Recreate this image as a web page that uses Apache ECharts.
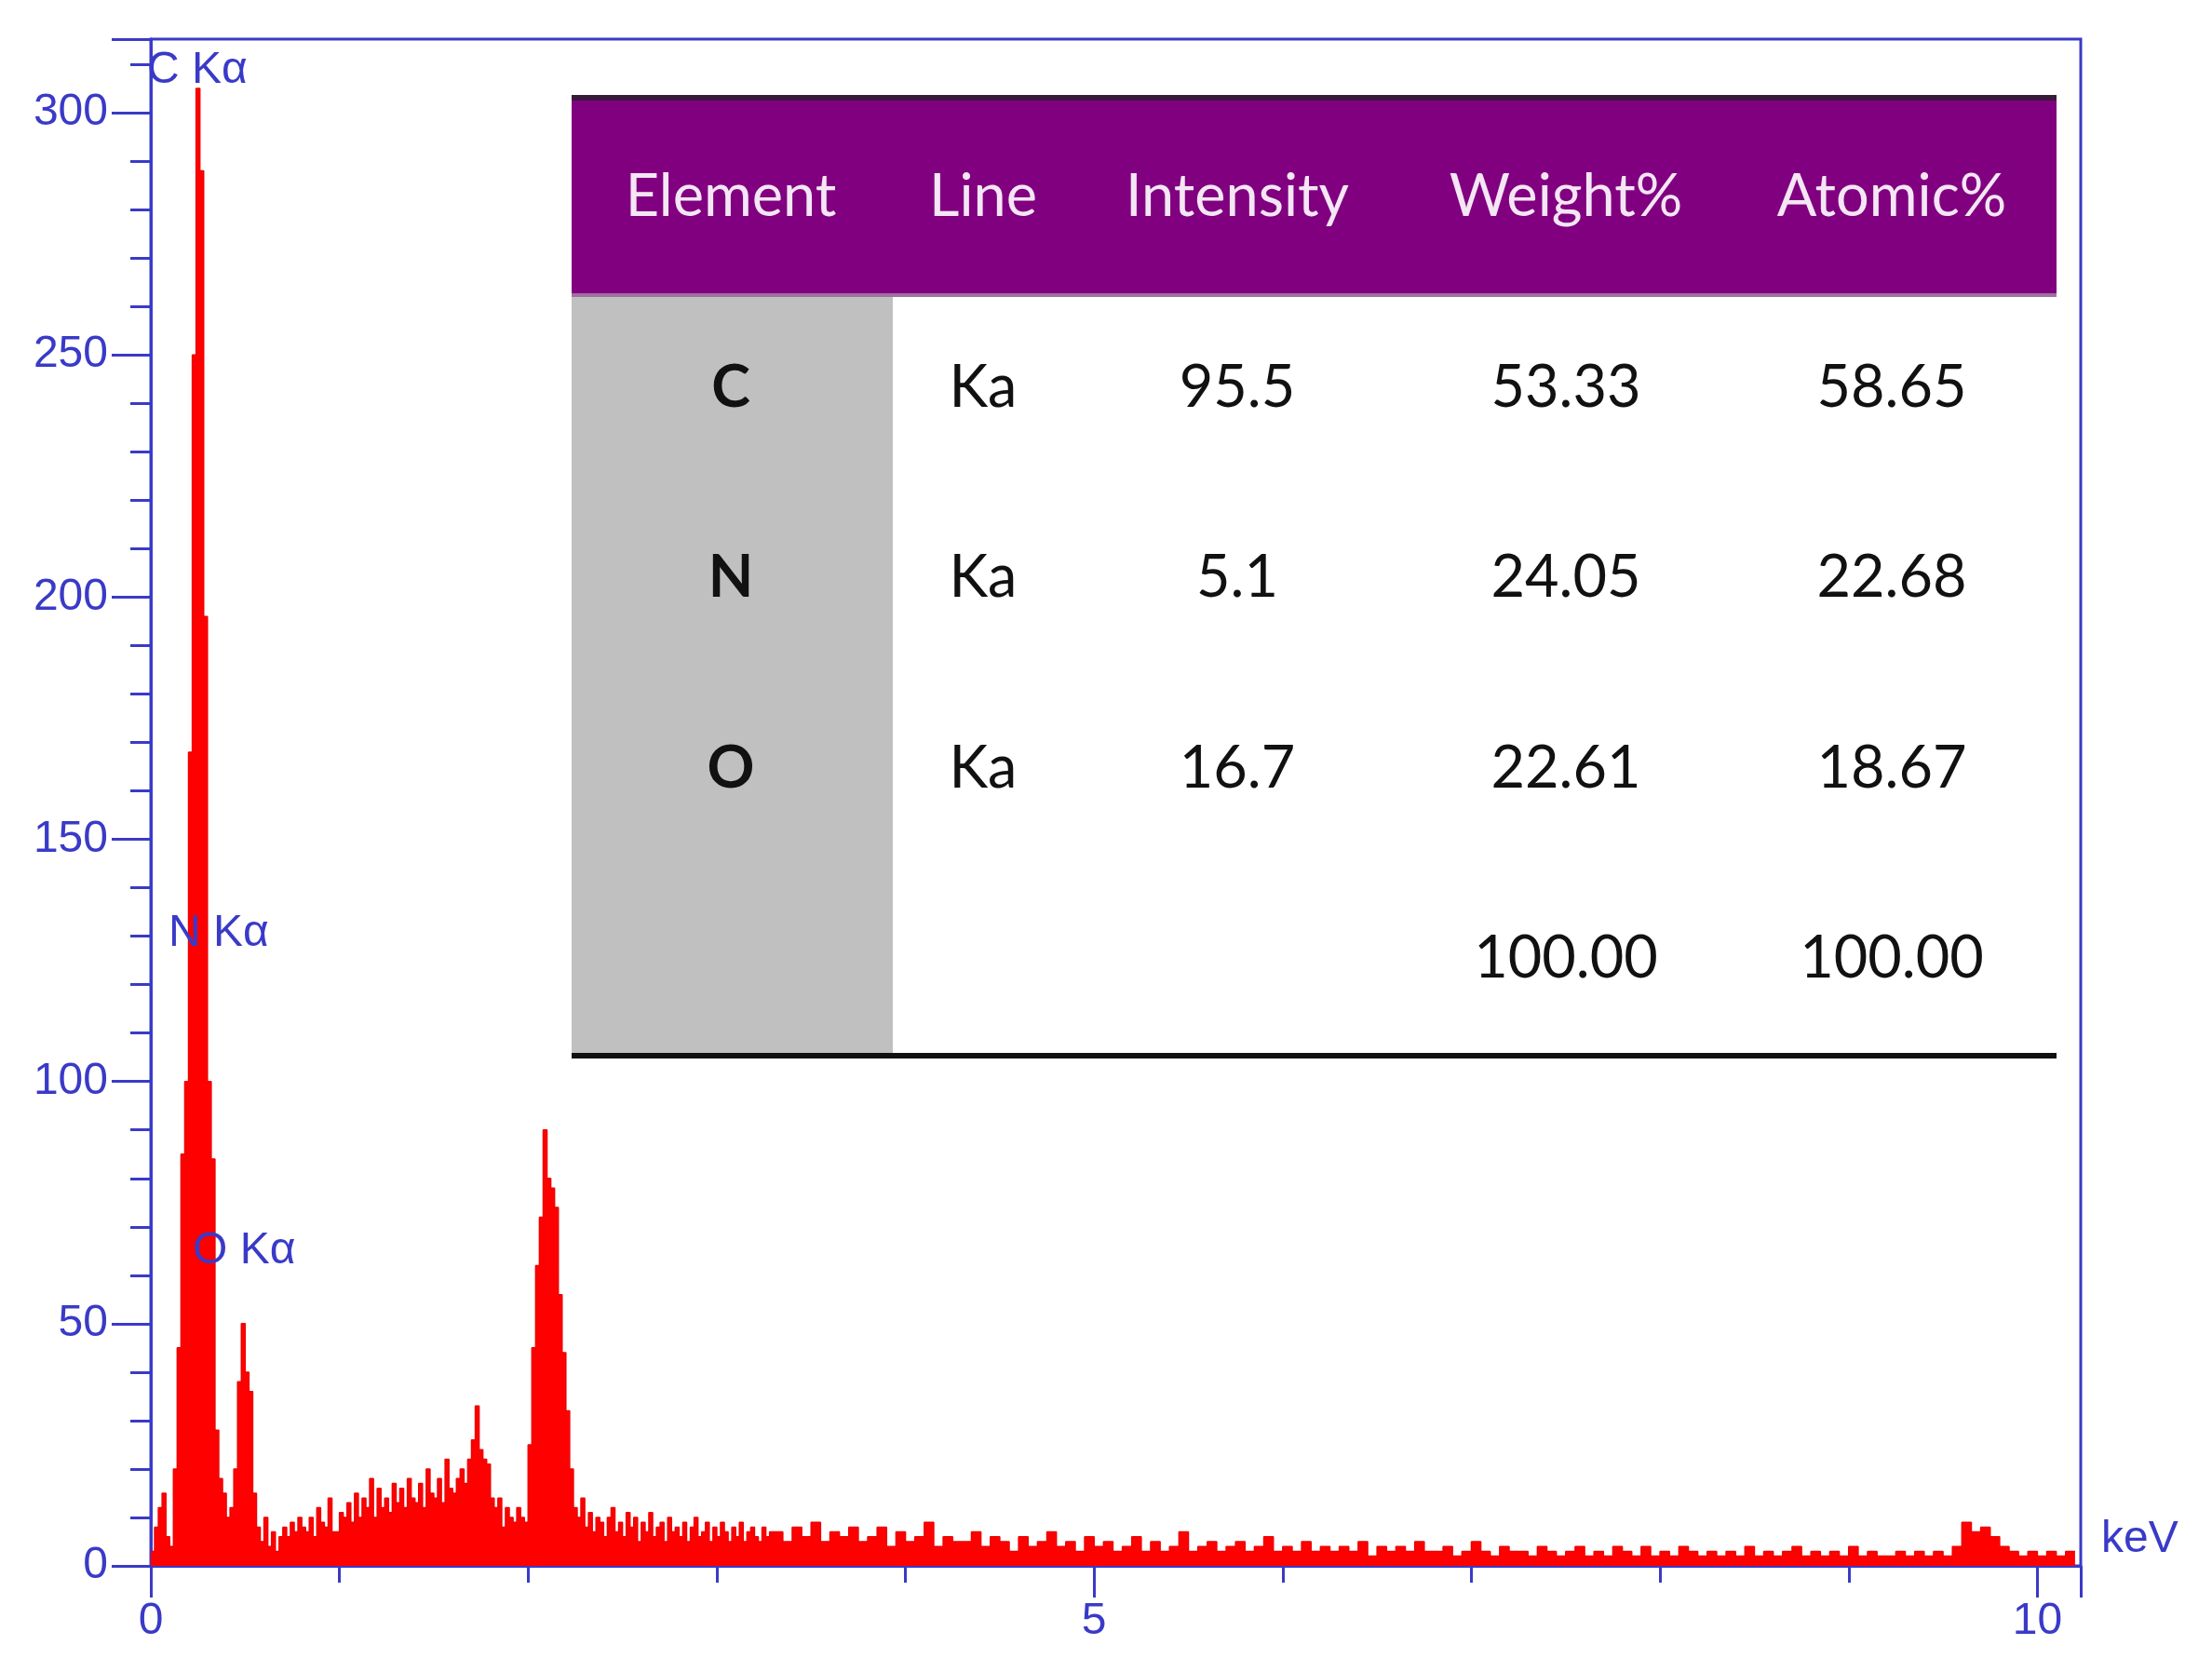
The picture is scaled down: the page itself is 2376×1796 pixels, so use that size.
<!DOCTYPE html>
<html>
<head>
<meta charset="utf-8">
<script src="https://cdn.jsdelivr.net/npm/echarts@6/dist/echarts.min.js"></script>
<style>
  html, body { margin: 0; padding: 0; background: #fff; }
  #chart { width: 2376px; height: 1796px; }
</style>
</head>
<body>
<div id="chart"></div>
<script>
// EDS 能谱：低能段 0.02 keV 一道，高能段 0.05 keV 一道
const lowStart = 0, lowStep = 0.02;
const lowCounts = [
  3, 8, 12, 15, 6, 4, 20, 45, 85, 100,
  168, 250, 305, 288, 196, 100, 84, 28, 18, 15,
  10, 12, 20, 38, 50, 40, 36, 15, 8, 5,
  10, 4, 7, 3, 6, 8, 6, 9, 7, 10,
  8, 7, 10, 6, 12, 9, 8, 14, 7, 7,
  11, 10, 13, 9, 15, 10, 14, 12, 18, 10,
  16, 12, 14, 11, 17, 13, 16, 12, 18, 14,
  13, 17, 12, 20, 15, 14, 18, 13, 22, 16,
  15, 18, 20, 17, 22, 26, 33, 24, 22, 21,
  14, 12, 14, 8, 12, 10, 9, 12, 10, 9,
  25, 45, 62, 72, 90, 80, 78, 74, 56, 44,
  32, 20, 12, 10, 14, 8, 11, 7, 10, 9,
  6, 10, 12, 7, 9, 6, 11, 8, 10, 5,
  9, 7, 11, 6, 8, 9, 5, 10, 7, 8,
  6, 9, 5, 8, 10, 6, 7, 9, 5, 8,
  6, 9, 7, 5, 8, 6, 9, 5, 7, 8,
  6, 5, 8, 6, 7
];
const highStart = 3.30, highStep = 0.05;
const highCounts = [
  7, 5, 8, 6, 9, 5, 7, 6, 8, 5,
  6, 8, 4, 7, 5, 6, 9, 4, 6, 5,
  5, 7, 4, 6, 5, 3, 6, 4, 5, 7,
  4, 5, 3, 6, 4, 5, 3, 4, 6, 3,
  5, 3, 4, 7, 3, 4, 5, 3, 4, 5,
  3, 4, 6, 3, 4, 3, 5, 3, 4, 3,
  4, 3, 5, 2, 4, 3, 4, 3, 5, 3,
  3, 4, 2, 3, 5, 3, 2, 4, 3, 3,
  2, 4, 3, 2, 3, 4, 2, 3, 2, 4,
  3, 2, 4, 2, 3, 2, 4, 3, 2, 3,
  2, 3, 2, 4, 2, 3, 2, 3, 4, 2,
  3, 2, 3, 2, 4, 2, 3, 2, 2, 3,
  2, 3, 2, 3, 2, 4, 9, 7, 8, 6,
  4, 3, 2, 3, 2, 3, 2, 3
];

// 峰标注
const peakLabels = ['C Kα', 'N Kα', 'O Kα'];
const peakLabelPos = [[158, 76], [181, 1003], [207, 1344]];

// 定量表格
const tableHeader = ['Element', 'Line', 'Intensity', 'Weight%', 'Atomic%'];
const tableElements = ['C', 'N', 'O', ''];
const tableLines = ['Ka', 'Ka', 'Ka', ''];
const tableIntensity = ['95.5', '5.1', '16.7', ''];
const tableWeight = ['53.33', '24.05', '22.61', '100.00'];
const tableAtomic = ['58.65', '22.68', '18.67', '100.00'];

const xMajorLabels = ['0', '5', '10'];
const yMajorLabels = ['0', '50', '100', '150', '200', '250', '300'];

const blue = '#3a3ac8';
const axisFont = '"Liberation Sans Narrow", "Liberation Sans", Arial, sans-serif';
const tableFont = 'Lato, "Open Sans", sans-serif';

// 组装阶梯数据
function buildSteps() {
  const pts = [];
  lowCounts.forEach((c, i) => {
    const x0 = lowStart + i * lowStep;
    pts.push([x0, c], [x0 + lowStep, c]);
  });
  highCounts.forEach((c, i) => {
    const x0 = highStart + i * highStep;
    pts.push([x0, c], [x0 + highStep, c]);
  });
  return pts;
}

const chart = echarts.init(document.getElementById('chart'));

// 表格图形
function buildTable() {
  const L = 614, R = 2209, T = 106, H = 315, B = 1133, G = 959;
  const colX = [785, 1056, 1329, 1682, 2032];
  const rowY = [417, 621, 826, 1030];
  const els = [
    { type: 'rect', shape: { x: L, y: T, width: R - L, height: H - T }, style: { fill: '#800080' } },
    { type: 'rect', shape: { x: L, y: T - 4, width: R - L, height: 6 }, style: { fill: '#3a1a3a' } },
    { type: 'rect', shape: { x: L, y: H, width: R - L, height: 4 }, style: { fill: '#a070a0' } },
    { type: 'rect', shape: { x: L, y: H + 4, width: G - L, height: B - H - 4 }, style: { fill: '#c0c0c0' } },
    { type: 'rect', shape: { x: L, y: B - 2, width: R - L, height: 6 }, style: { fill: '#111' } }
  ];
  tableHeader.forEach((t, i) => {
    els.push({ type: 'text', x: colX[i], y: 212, style: {
      text: t, fill: '#f4e6f4', font: '63px ' + tableFont, align: 'center', verticalAlign: 'middle' } });
  });
  const cols = [tableElements, tableLines, tableIntensity, tableWeight, tableAtomic];
  cols.forEach((col, ci) => {
    col.forEach((t, ri) => {
      if (!t) return;
      els.push({ type: 'text', x: colX[ci], y: rowY[ri], style: {
        text: t, fill: '#111', align: 'center', verticalAlign: 'middle',
        font: (ci === 0 ? 'bold ' : '') + '63px ' + tableFont } });
    });
  });
  return els;
}

const graphics = buildTable();
peakLabels.forEach((t, i) => {
  graphics.push({ type: 'text', x: peakLabelPos[i][0], y: peakLabelPos[i][1], z: 10, style: {
    text: t, fill: blue, font: '48px ' + axisFont, verticalAlign: 'middle' } });
});
graphics.push({ type: 'text', x: 2257, y: 1654, style: {
  text: 'keV', fill: blue, font: '48px ' + axisFont, verticalAlign: 'middle' } });

const option = {
  animation: false,
  backgroundColor: '#fff',
  grid: { left: 162, top: 42, width: 2073, height: 1640, show: true, borderColor: blue, borderWidth: 3, backgroundColor: 'transparent' },
  xAxis: [
    {
      type: 'value', min: 0, max: 10.23, interval: 1,
      axisLine: { show: true, lineStyle: { color: blue, width: 3 } },
      axisTick: { show: true, length: 18, lineStyle: { color: blue, width: 3 } },
      axisLabel: { show: false },
      splitLine: { show: false }
    },
    {
      type: 'value', min: 0, max: 10.23, interval: 5, position: 'bottom',
      axisLine: { show: false },
      axisTick: { show: true, length: 34, lineStyle: { color: blue, width: 3 } },
      axisLabel: { show: true, color: blue, fontSize: 48, fontFamily: axisFont, margin: 36,
        formatter: v => (Math.abs(v % 5) < 1e-6 ? xMajorLabels[Math.round(v / 5)] : '') },
      splitLine: { show: false }
    }
  ],
  yAxis: [
    {
      type: 'value', min: 0, max: 315.2, interval: 10,
      axisLine: { show: true, lineStyle: { color: blue, width: 3 } },
      axisTick: { show: true, length: 22, lineStyle: { color: blue, width: 3 } },
      axisLabel: { show: false },
      splitLine: { show: false }
    },
    {
      type: 'value', min: 0, max: 315.2, interval: 50, position: 'left',
      axisLine: { show: false },
      axisTick: { show: true, length: 42, lineStyle: { color: blue, width: 3 } },
      axisLabel: { show: true, color: blue, fontSize: 48, fontFamily: axisFont, margin: 46,
        formatter: v => (Math.abs(v % 50) < 1e-6 ? yMajorLabels[Math.round(v / 50)] : '') },
      splitLine: { show: false }
    }
  ],
  series: [{
    type: 'line',
    xAxisIndex: 0, yAxisIndex: 0,
    data: buildSteps(),
    showSymbol: false,
    lineStyle: { color: '#ee0000', width: 1.5 },
    areaStyle: { color: '#ff0000', opacity: 1 },
    z: 3
  }],
  graphic: graphics
};

chart.setOption(option);
</script>
</body>
</html>
